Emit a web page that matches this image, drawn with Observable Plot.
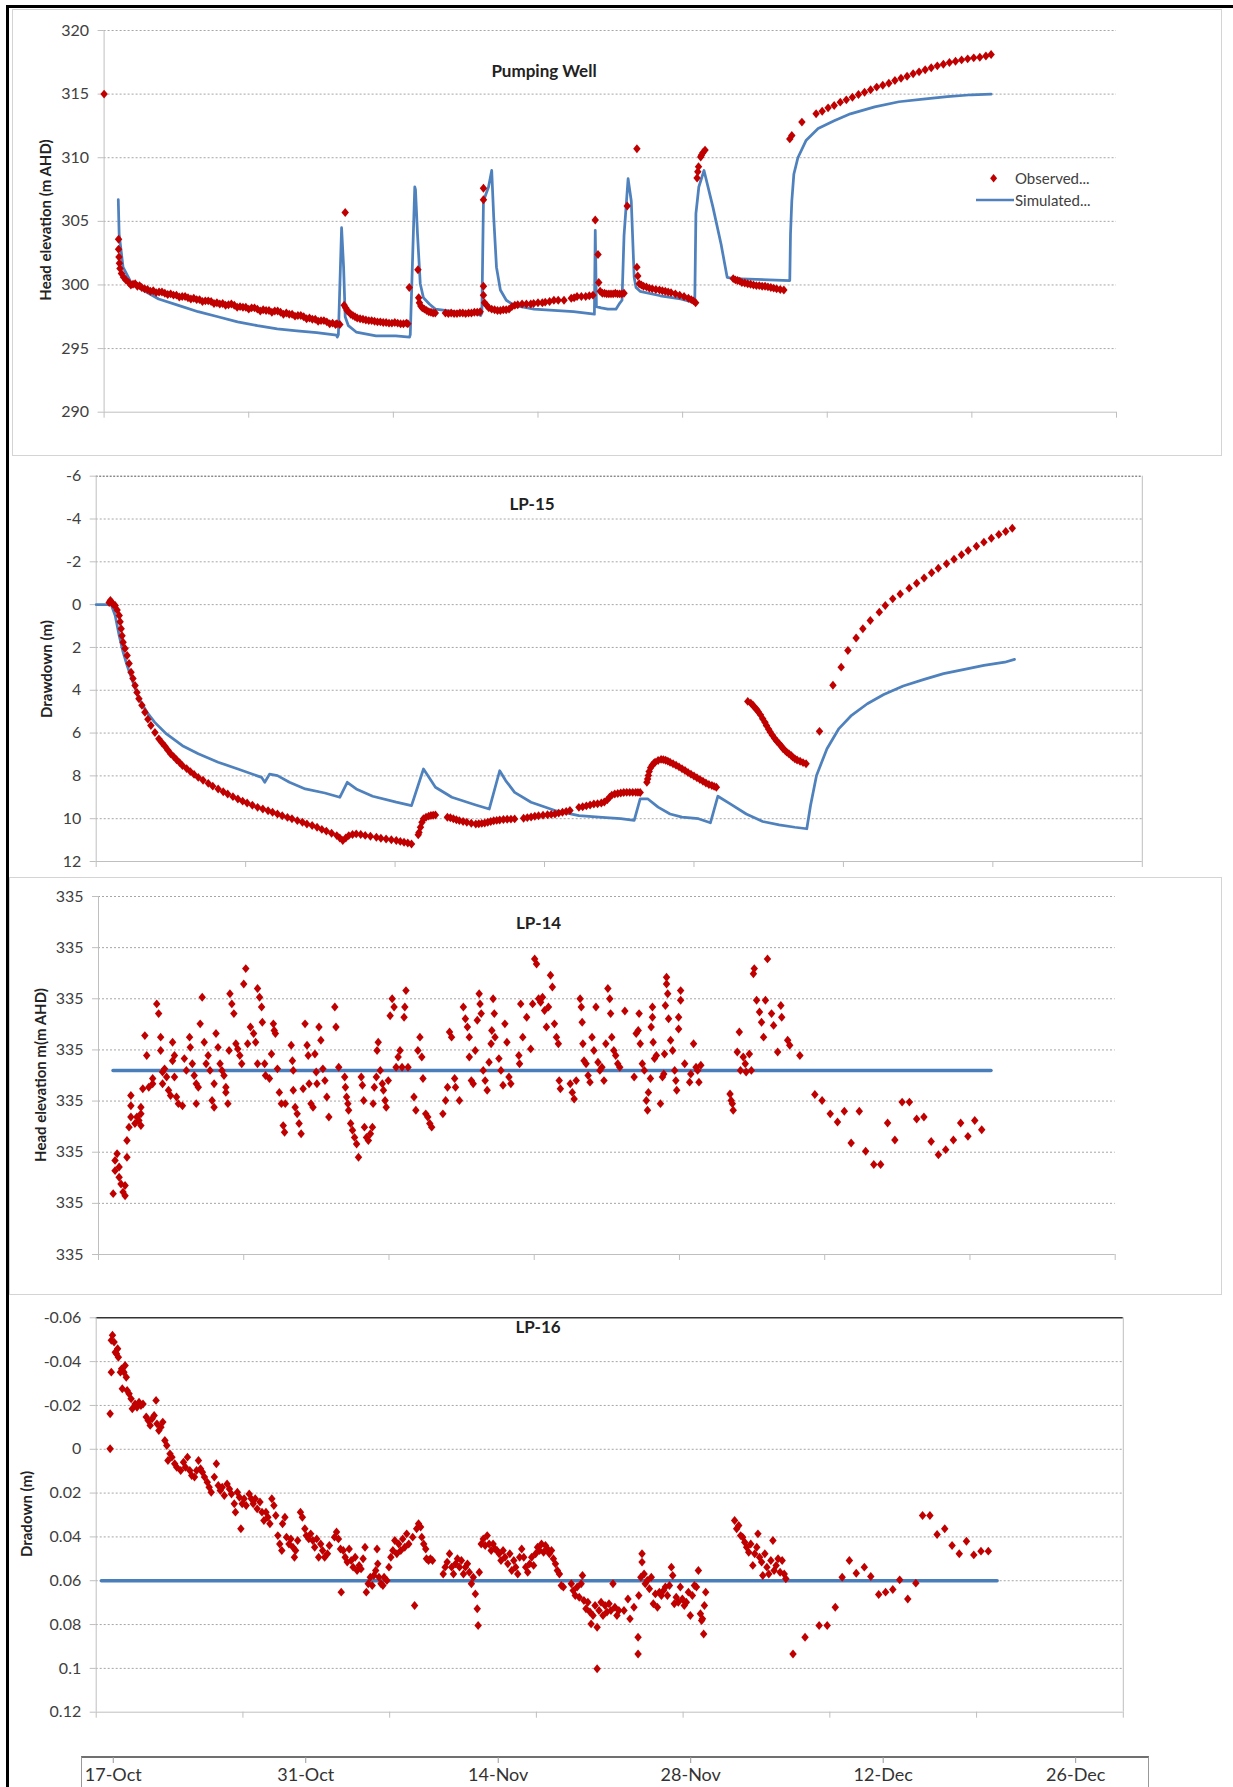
<!DOCTYPE html>
<html><head><meta charset="utf-8">
<script src="https://cdn.jsdelivr.net/npm/d3@7"></script>
<script src="https://cdn.jsdelivr.net/npm/@observablehq/plot@0.6"></script>
<style>
html,body{margin:0;padding:0;background:#fff;}
#page{position:relative;width:1233px;height:1787px;overflow:hidden;font-family:Lato,'Open Sans',sans-serif;color:#333;}
.box{position:absolute;box-sizing:border-box;}
.title{position:absolute;font-weight:bold;font-size:17px;transform:translate(-50%,-50%);white-space:nowrap;color:#222;}
.ylab{position:absolute;font-weight:bold;font-size:15px;transform:translate(-50%,-50%) rotate(-90deg);white-space:nowrap;color:#222;}
.leg{position:absolute;font-size:15px;transform:translateY(-50%);white-space:nowrap;color:#404040;}
</style></head><body><div id="page"></div>
<script>
// ---------- DATA (x = days since start of test, y = value) ----------
const dayTicks = [0, 10, 20, 30, 40, 50, 60, 70];

// Pumping well: head elevation (m AHD)
const pwTicks = [290, 295, 300, 305, 310, 315, 320];
const pwObserved = [
[0,315],
[1.0,303.6],[1.0,302.8],[1.03,302.2],[1.06,301.7],[1.1,301.3],[1.2,300.9],[1.35,300.6],[1.5,300.4],[1.7,300.2],[1.85,300.0],[2.0,300.05],[2.15,300.1],[2.3,299.9],[2.45,299.95],[2.6,299.8],[2.8,299.7],[3.0,299.65],[3.2,299.5],[3.4,299.55],[3.6,299.4],[3.8,299.45],[4.0,299.45],[4.2,299.35],[4.4,299.25],[4.6,299.3],[4.8,299.2],[5.0,299.2],[5.2,299.05],[5.4,299.1],[5.6,299.1],[5.8,299.0],[6.0,298.9],[6.2,298.95],[6.4,298.85],[6.6,298.85],[6.8,298.7],[7.0,298.75],[7.2,298.75],[7.4,298.7],[7.6,298.55],[7.8,298.6],[8.0,298.5],[8.2,298.55],[8.4,298.4],[8.6,298.45],[8.8,298.5],[9.0,298.4],[9.2,298.25],[9.4,298.3],[9.6,298.25],[9.8,298.25],[10.0,298.1],[10.2,298.2],[10.4,298.2],[10.6,298.1],[10.8,297.95],[11.0,298.05],[11.2,298.0],[11.4,298.0],[11.6,297.85],[11.8,297.95],[12.0,297.95],[12.2,297.85],[12.4,297.7],[12.6,297.8],[12.8,297.7],[13.0,297.7],[13.2,297.55],[13.4,297.6],[13.6,297.6],[13.8,297.5],[14.0,297.35],[14.2,297.4],[14.4,297.3],[14.6,297.3],[14.8,297.15],[15.0,297.2],[15.2,297.2],[15.4,297.1],[15.6,296.95],[15.8,297.0],[16.0,296.9],[16.1,296.95],[16.3,296.9],
[16.67,305.7],[16.6,298.4],[16.7,298.2],[16.8,298.0],[16.9,297.9],[17.05,297.7],[17.2,297.6],[17.35,297.5],[17.5,297.4],[17.7,297.35],[17.9,297.3],[18.1,297.25],[18.3,297.2],[18.5,297.2],[18.7,297.15],[18.9,297.1],[19.1,297.1],[19.3,297.05],[19.5,297.05],[19.7,297.0],[19.9,297.0],[20.1,297.05],[20.3,297.0],[20.5,296.95],[20.7,296.95],[20.9,297.0],[21.0,296.95],
[21.1,299.8],[21.7,301.2],[21.75,299.0],[21.8,298.6],[21.9,298.35],[22.0,298.2],[22.15,298.1],[22.3,298.0],[22.45,297.9],[22.6,297.85],[22.75,297.8],[22.9,297.8],
[23.6,297.8],[23.8,297.75],[24.0,297.8],[24.2,297.75],[24.4,297.75],[24.6,297.8],[24.8,297.8],[25.0,297.75],[25.2,297.8],[25.4,297.8],[25.6,297.85],[25.8,297.85],[26.0,297.9],
[26.23,307.6],[26.23,306.7],[26.23,299.9],[26.23,299.2],[26.3,298.6],[26.45,298.4],[26.6,298.2],[26.8,298.1],[27.0,298.05],[27.2,298.0],[27.4,298.0],[27.6,298.05],[27.8,298.05],[28.0,298.1],[28.2,298.3],[28.4,298.4],[28.6,298.45],[28.9,298.5],[29.2,298.5],[29.5,298.5],[29.7,298.55],[30.0,298.6],[30.3,298.6],[30.5,298.65],[30.8,298.7],[31.1,298.8],[31.4,298.8],[31.8,298.8],
[32.3,298.95],[32.5,299.0],[32.7,299.1],[33.0,299.1],[33.3,299.1],[33.55,299.15],[33.8,299.2],
[33.96,305.1],[34.15,302.4],[34.2,300.2],[34.3,299.5],[34.45,299.35],[34.6,299.35],[34.75,299.3],[34.9,299.3],[35.05,299.3],[35.2,299.3],[35.35,299.35],[35.5,299.3],[35.65,299.3],[35.8,299.3],[35.95,299.35],
[36.17,306.2],[36.84,310.7],[36.84,301.4],[36.9,300.7],[37.0,300.1],[37.15,300.0],[37.3,299.9],[37.5,299.85],[37.7,299.75],[37.9,299.7],[38.15,299.65],[38.4,299.6],[38.6,299.55],[38.8,299.5],[39.0,299.45],[39.2,299.4],[39.5,299.3],[39.8,299.2],[40.1,299.1],[40.4,298.95],[40.6,298.85],[40.75,298.75],[40.9,298.6],
[41.0,308.4],[41.05,308.9],[41.1,309.3],[41.25,310.05],[41.3,310.2],[41.4,310.4],[41.55,310.6],
[43.5,300.5],[43.65,300.4],[43.8,300.35],[43.95,300.3],[44.1,300.2],[44.3,300.15],[44.5,300.1],[44.7,300.05],[44.9,300.0],[45.1,299.95],[45.3,299.95],[45.5,299.9],[45.7,299.9],[45.9,299.85],[46.1,299.8],[46.3,299.75],[46.5,299.7],[46.75,299.65],[47.0,299.6],
[47.41,311.48],[47.55,311.75],[48.25,312.8],[49.23,313.45],[49.65,313.66],[50.06,313.92],[50.48,314.1],[50.9,314.37],[51.32,314.55],[51.74,314.76],[52.16,314.97],[52.58,315.15],[53.0,315.34],[53.42,315.55],[53.84,315.7],[54.26,315.86],[54.68,316.07],[55.1,316.25],[55.52,316.41],[55.94,316.6],[56.35,316.75],[56.77,316.91],[57.19,317.07],[57.61,317.22],[58.03,317.35],[58.45,317.48],[58.87,317.59],[59.29,317.69],[59.71,317.77],[60.13,317.85],[60.55,317.9],[60.97,318.0],[61.33,318.11]
];
const pwSimulated = [
[0.98,306.7],[1.04,304.0],[1.31,301.4],[1.86,300.2],[2.68,299.6],[3.77,298.9],[5.14,298.4],[6.5,297.9],[7.87,297.5],[9.23,297.1],[10.6,296.8],[11.97,296.55],[13.33,296.4],[14.7,296.25],[16.07,296.05],[16.12,295.9],[16.2,296.1],[16.42,304.5],[16.56,301.4],[16.67,297.5],[16.89,296.8],[17.43,296.3],[18.8,296.0],[20.16,296.0],[21.12,295.9],[21.17,296.1],[21.48,307.7],[21.53,307.5],[21.67,304.0],[21.86,300.1],[22.08,299.0],[22.49,298.5],[22.9,298.1],[24.26,297.9],[25.63,297.8],[26.04,297.6],[26.12,297.8],[26.23,306.6],[26.58,307.7],[26.8,309.0],[26.94,305.3],[27.13,301.4],[27.4,299.6],[27.81,298.8],[28.36,298.4],[29.73,298.1],[31.09,298.0],[32.46,297.9],[33.9,297.7],[33.96,304.3],[34.04,298.3],[34.37,298.2],[34.83,298.1],[35.39,298.1],[35.67,298.6],[35.81,298.8],[35.95,303.9],[36.23,308.35],[36.45,306.6],[36.65,300.6],[36.78,299.8],[37.06,299.5],[38.46,299.15],[39.86,298.9],[40.84,298.6],[40.92,305.6],[41.12,307.7],[41.48,309.0],[42.1,306.1],[42.66,303.2],[43.08,300.6],[43.5,300.5],[47.41,300.35],[47.46,304.0],[47.55,306.6],[47.69,308.7],[47.97,310.0],[48.53,311.35],[49.37,312.3],[50.48,312.9],[51.6,313.45],[53.28,314.0],[54.96,314.4],[56.63,314.6],[58.31,314.8],[59.99,314.95],[61.33,315.0]
];

// LP-15: drawdown (m)
const lp15Ticks = [-6, -4, -2, 0, 2, 4, 6, 8, 10, 12];
const lp15Observed = [
[0.87,-0.1],[0.95,-0.19],[1.05,-0.1],[1.15,0.0],[1.27,0.04],[1.4,0.25],[1.54,0.51],[1.6,0.8],[1.67,1.13],[1.73,1.45],[1.8,1.76],[1.93,2.05],[2.07,2.38],[2.2,2.75],[2.33,3.16],[2.46,3.45],[2.6,3.78],[2.73,4.1],[2.86,4.4],[3.06,4.7],[3.26,5.03],[3.46,5.35],[3.66,5.65],[3.93,5.97],[4.19,6.27],[4.4,6.45],[4.6,6.62],[4.8,6.8],[4.98,6.97],[5.18,7.1],[5.38,7.25],[5.58,7.38],[5.77,7.52],[6.05,7.66],[6.3,7.8],[6.55,7.93],[6.83,8.07],[7.15,8.2],[7.5,8.35],[7.8,8.48],[8.16,8.61],[8.5,8.74],[8.8,8.85],[9.15,8.97],[9.48,9.08],[9.8,9.18],[10.1,9.27],[10.45,9.37],[10.8,9.47],[11.15,9.55],[11.5,9.63],[11.8,9.7],[12.13,9.78],[12.45,9.86],[12.8,9.94],[13.1,10.0],[13.46,10.09],[13.8,10.17],[14.1,10.25],[14.45,10.32],[14.78,10.4],[15.1,10.5],[15.4,10.58],[15.75,10.68],[16.1,10.79],[16.3,10.9],[16.5,11.02],[16.7,10.9],[16.9,10.79],[17.15,10.74],[17.4,10.71],[17.7,10.74],[18.0,10.78],[18.35,10.82],[18.75,10.87],[19.05,10.91],[19.4,10.95],[19.75,10.98],[20.08,11.02],[20.35,11.06],[20.6,11.1],[20.85,11.14],[21.1,11.18],
[21.55,10.75],[21.6,10.64],[21.7,10.4],[21.8,10.17],[21.9,10.0],[22.07,9.93],[22.25,9.88],[22.4,9.85],[22.55,9.84],[22.7,9.83],
[23.5,9.93],[23.7,9.96],[23.9,10.0],[24.1,10.05],[24.3,10.09],[24.55,10.13],[24.8,10.17],[25.1,10.21],[25.4,10.25],[25.6,10.24],[25.8,10.22],[26.0,10.2],[26.2,10.17],[26.4,10.13],[26.6,10.1],[26.8,10.08],[27.0,10.06],[27.25,10.04],[27.5,10.03],[27.75,10.02],[28.0,10.01],
[28.6,9.98],[28.85,9.95],[29.1,9.92],[29.35,9.89],[29.6,9.86],[29.9,9.84],[30.2,9.82],[30.45,9.8],[30.7,9.78],[30.95,9.74],[31.2,9.7],[31.45,9.66],[31.7,9.62],
[32.3,9.47],[32.55,9.44],[32.8,9.4],[33.05,9.36],[33.3,9.31],[33.55,9.3],[33.8,9.27],[34.0,9.22],[34.2,9.12],[34.35,9.0],[34.5,8.9],[34.7,8.85],[34.9,8.82],[35.1,8.8],[35.3,8.78],[35.5,8.77],[35.7,8.77],[35.9,8.77],[36.1,8.77],[36.25,8.77],[36.4,8.78],
[36.85,8.3],[36.9,8.15],[36.95,7.98],[37.0,7.8],[37.1,7.62],[37.2,7.5],[37.3,7.42],[37.4,7.36],[37.6,7.28],[37.8,7.23],[37.95,7.24],[38.1,7.27],[38.25,7.31],[38.4,7.36],[38.6,7.43],[38.8,7.5],[39.0,7.58],[39.2,7.67],[39.4,7.75],[39.6,7.84],[39.8,7.92],[40.0,8.01],[40.2,8.09],[40.4,8.17],[40.6,8.25],[40.8,8.33],[41.0,8.4],[41.2,8.45],[41.35,8.49],[41.5,8.53],
[43.6,4.52],[43.8,4.6],[43.95,4.7],[44.05,4.79],[44.2,4.9],[44.3,5.0],[44.45,5.15],[44.6,5.33],[44.75,5.5],[44.85,5.65],[45.0,5.82],[45.1,5.95],[45.25,6.1],[45.4,6.25],[45.55,6.38],[45.7,6.5],[45.85,6.62],[45.95,6.72],[46.1,6.82],[46.2,6.89],[46.35,6.97],[46.5,7.05],[46.6,7.12],[46.75,7.2],[46.9,7.26],[47.1,7.32],[47.3,7.38],[47.5,7.43],
[48.4,5.92],[49.3,3.77],[49.85,2.92],[50.3,2.14],[50.85,1.56],[51.3,1.13],[51.8,0.74],[52.4,0.35],[52.8,0.04],[53.3,-0.27],[53.8,-0.5],[54.4,-0.77],[54.9,-1.0],[55.4,-1.24],[55.9,-1.49],[56.35,-1.7],[56.9,-1.91],[57.4,-2.12],[57.9,-2.33],[58.35,-2.53],[58.9,-2.73],[59.4,-2.92],[59.9,-3.1],[60.4,-3.28],[60.86,-3.42],[61.3,-3.57]
];
const lp15Simulated = [
[0,0],[1.0,0],[1.27,0.51],[1.54,1.45],[1.8,2.22],[2.07,2.85],[2.46,3.63],[2.86,4.4],[3.4,5.03],[3.92,5.5],[4.7,6.04],[5.77,6.59],[6.83,6.97],[8.16,7.36],[9.48,7.68],[11.07,8.07],[11.28,8.3],[11.6,7.92],[12.13,7.99],[12.93,8.3],[13.99,8.61],[15.3,8.8],[16.3,9.0],[16.8,8.3],[17.4,8.61],[18.5,8.95],[20.08,9.23],[21.1,9.39],[21.9,7.68],[22.2,7.99],[22.7,8.53],[23.8,9.0],[25.4,9.36],[26.3,9.55],[27.0,7.76],[27.4,8.22],[28.0,8.77],[29.1,9.23],[30.7,9.62],[32.3,9.86],[34.1,9.95],[35.1,10.0],[36.0,10.08],[36.4,9.07],[36.9,9.07],[37.6,9.46],[38.4,9.78],[39.2,9.93],[40.3,10.0],[41.1,10.19],[41.6,8.95],[42.4,9.3],[43.5,9.78],[44.6,10.13],[45.7,10.29],[46.75,10.4],[47.55,10.47],[47.8,9.38],[48.2,7.98],[48.9,6.73],[49.7,5.79],[50.5,5.2],[51.6,4.63],[52.7,4.2],[54.0,3.8],[55.4,3.49],[56.7,3.22],[58.1,3.02],[59.4,2.84],[60.8,2.69],[61.45,2.56]
];

// LP-14: head elevation (m AHD), all ticks display as 335
const lp14Ticks = [334.97, 334.98, 334.99, 335.00, 335.01, 335.02, 335.03, 335.04];
const lp14Observed = [
[1.01,334.9819],[1.14,334.9864],[1.14,334.9884],[1.28,334.9897],[1.42,334.9871],[1.42,334.9851],[1.55,334.9838],[1.69,334.9822],[1.83,334.9815],[1.83,334.9835],[1.96,334.9890],[1.96,334.9923],[2.10,334.9949],[2.23,334.9969],[2.23,334.9991],[2.23,335.0011],[2.51,334.9956],[2.64,334.9969],[2.78,334.9962],[2.92,334.9975],[2.92,334.9988],[3.05,335.0024],[2.92,334.9952],[3.19,335.0128],[3.32,335.0089],[3.46,335.0027],[3.73,335.0034],[3.73,335.0044],[4.01,335.0190],[4.14,335.0171],[4.28,335.0125],[4.28,335.0099],[4.41,335.0057],[4.41,335.0034],[4.55,335.0063],[4.69,335.0047],[4.82,335.0021],[4.96,335.0011],[5.10,335.0115],[5.10,335.0079],[5.23,335.0047],[5.23,335.0089],[5.37,335.0008],[5.50,334.9995],[5.78,334.9991],[5.91,335.0083],[6.05,335.0060],[6.27,335.0125],[6.32,335.0105],[6.46,335.0073],[6.59,335.0050],[6.73,335.0034],[6.73,334.9995],[6.87,335.0027],[7.00,335.0151],[7.14,335.0203],[7.28,335.0115],[7.41,335.0073],[7.55,335.0089],[7.68,335.0060],[7.82,335.0001],[7.96,334.9988],[7.96,335.0034],[8.09,335.0132],[8.23,335.0105],[8.37,335.0073],[8.50,335.0060],[8.64,335.0050],[8.77,335.0027],[8.77,335.0017],[8.91,334.9995],[8.99,335.0099],[9.05,335.0210],[9.18,335.0190],[9.32,335.0171],[9.46,335.0112],[9.59,335.0102],[9.73,335.0089],[9.86,335.0073],[10.00,335.0229],[10.14,335.0259],[10.27,335.0112],[10.46,335.0145],[10.68,335.0132],[10.82,335.0115],[10.95,335.0073],[10.95,335.0220],[11.09,335.0203],[11.23,335.0184],[11.28,335.0154],[11.44,335.0073],[11.50,335.0050],[11.77,335.0044],[11.91,335.0092],[12.04,335.0151],[12.10,335.0138],[12.18,335.0132],[12.32,335.0063],[12.45,335.0017],[12.59,334.9995],[12.72,334.9952],[12.81,334.9939],[12.86,334.9995],[13.27,335.0109],[13.35,335.0079],[13.41,335.0060],[13.41,335.0021],[13.54,334.9988],[13.68,334.9975],[13.81,334.9956],[13.95,334.9936],[14.09,335.0024],[14.22,335.0151],[14.36,335.0109],[14.44,335.0089],[14.50,335.0034],[14.63,334.9995],[14.77,334.9988],[14.90,335.0092],[14.99,335.0057],[15.04,335.0034],[15.18,335.0145],[15.31,335.0119],[15.45,335.0063],[15.59,335.0040],[15.72,335.0008],[15.86,334.9969],[16.27,335.0184],[16.35,335.0145],[16.54,335.0066],[16.95,335.0047],[17.00,335.0027],[17.08,335.0008],[17.17,334.9995],[17.22,334.9982],[17.36,334.9956],[17.49,334.9943],[17.63,334.9929],[17.77,334.9916],[17.90,334.9890],[18.09,335.0047],[18.17,335.0031],[18.26,335.0001],[18.31,334.9949],[18.45,334.9929],[18.58,334.9923],[18.72,334.9936],[18.86,334.9949],[18.91,334.9995],[18.99,335.0027],[19.13,335.0047],[19.18,335.0099],[19.26,335.0115],[19.40,335.0060],[19.54,335.0034],[19.62,335.0021],[19.73,335.0001],[19.81,334.9988],[19.95,335.0040],[20.08,335.0167],[20.22,335.0200],[20.35,335.0184],[20.49,335.0066],[20.63,335.0086],[20.76,335.0099],[20.90,335.0066],[21.04,335.0164],[21.09,335.0184],[21.17,335.0216],[21.31,335.0066],[21.72,335.0008],[21.85,334.9982],[21.99,335.0099],[22.13,335.0125],[22.26,335.0086],[22.34,335.0044],[22.53,334.9975],[22.67,334.9969],[22.81,334.9956],[22.94,334.9949],[23.71,334.9975],[23.90,335.0001],[24.03,335.0027],[24.17,335.0135],[24.31,335.0125],[24.52,335.0044],[24.58,335.0027],[24.85,335.0001],[25.12,335.0184],[25.26,335.0161],[25.40,335.0145],[25.53,335.0125],[25.53,335.0086],[25.67,335.0040],[25.80,335.0034],[25.94,335.0099],[26.08,335.0158],[26.21,335.0210],[26.27,335.0190],[26.35,335.0171],[26.49,335.0060],[26.62,335.0040],[26.76,335.0021],[26.89,335.0076],[27.03,335.0112],[27.08,335.0138],[27.17,335.0200],[27.25,335.0171],[27.30,335.0125],[27.57,335.0083],[27.71,335.0060],[27.85,335.0031],[27.98,335.0151],[28.12,335.0115],[28.26,335.0047],[28.39,335.0034],[28.94,335.0089],[28.99,335.0073],[29.07,335.0190],[29.21,335.0125],[29.48,335.0164],[29.76,335.0102],[29.89,335.0190],[30.03,335.0278],[30.16,335.0268],[30.30,335.0200],[30.44,335.0193],[30.57,335.0203],[30.71,335.0177],[30.84,335.0145],[30.98,335.0184],[31.12,335.0246],[31.25,335.0223],[31.39,335.0151],[31.53,335.0125],[31.66,335.0112],[31.72,335.0040],[31.80,335.0024],[32.48,335.0034],[32.62,335.0017],[32.75,335.0004],[32.89,335.0040],[33.16,335.0200],[33.24,335.0184],[33.30,335.0154],[33.35,335.0112],[33.43,335.0079],[33.57,335.0073],[33.71,335.0050],[33.84,335.0037],[33.98,335.0125],[34.11,335.0099],[34.25,335.0184],[34.39,335.0076],[34.52,335.0060],[34.66,335.0066],[34.80,335.0040],[34.93,335.0112],[35.07,335.0220],[35.20,335.0200],[35.26,335.0171],[35.34,335.0125],[35.48,335.0099],[35.61,335.0089],[35.75,335.0073],[35.89,335.0066],
[36.24,335.0176],[36.88,335.0047],[37.02,335.0132],[37.16,335.0138],[37.22,335.0171],[37.30,335.0112],[37.44,335.0073],[37.58,335.0060],[37.72,335.0001],[37.80,334.9982],[37.86,335.0017],[38.00,335.0044],[38.05,335.0145],[38.14,335.0164],[38.14,335.0184],[38.19,335.0115],[38.28,335.0083],[38.41,335.0089],[38.69,334.9995],[38.83,335.0047],[38.92,335.0053],[38.97,335.0092],[39.03,335.0187],[39.11,335.0229],[39.11,335.0242],[39.19,335.0210],[39.25,335.0161],[39.39,335.0119],[39.53,335.0099],[39.67,335.0060],[39.75,335.0040],[39.81,335.0021],[39.94,335.0141],[39.94,335.0164],[40.08,335.0197],[40.08,335.0216],[40.36,335.0073],[40.70,335.0037],[40.78,335.0053],[40.97,335.0112],[41.14,335.0066],[41.25,335.0060],[41.34,335.0037],[41.47,335.0070],
[43.48,335.0014],[43.56,335.0001],[43.64,334.9995],[43.70,334.9982],[43.98,335.0096],[44.12,335.0135],[44.20,335.0060],[44.39,335.0086],[44.53,335.0073],[44.59,335.0057],[44.81,335.0092],[44.95,335.0060],[45.09,335.0249],[45.15,335.0259],[45.31,335.0197],[45.51,335.0174],[45.65,335.0154],[45.79,335.0125],[45.92,335.0197],[46.06,335.0278],[46.34,335.0171],[46.48,335.0148],[46.76,335.0096],[46.98,335.0187],[47.04,335.0164],[47.45,335.0119],[47.59,335.0109],[48.29,335.0089],
[49.32,335.0013],[49.82,335.0001],[50.38,334.9975],[50.88,334.9959],[51.35,334.9980],[51.82,334.9918],[52.38,334.9980],[52.82,334.9902],[53.38,334.9876],[53.85,334.9876],[54.33,334.9957],[54.83,334.9924],[55.33,334.9998],[55.83,334.9998],[56.33,334.9965],[56.83,334.9969],[57.33,334.9921],[57.83,334.9895],[58.33,334.9905],[58.86,334.9924],[59.36,334.9957],[59.86,334.9931],[60.33,334.9962],[60.81,334.9944]
];
const lp14Simulated = [[1.0,335.006],[61.45,335.006]];

// LP-16: drawdown (m)
const lp16Ticks = [-0.06, -0.04, -0.02, 0, 0.02, 0.04, 0.06, 0.08, 0.1, 0.12];
const lp16Observed = [
[0.95,-0.0002],[0.95,-0.0162],[1.03,-0.0352],[1.03,-0.0497],[1.11,-0.0520],[1.22,-0.0489],[1.30,-0.0443],[1.38,-0.0436],[1.46,-0.0459],[1.51,-0.0420],[1.65,-0.0352],[1.73,-0.0367],[1.78,-0.0276],[1.89,-0.0352],[1.97,-0.0382],[2.05,-0.0329],[2.11,-0.0268],[2.24,-0.0253],[2.38,-0.0230],[2.46,-0.0185],[2.65,-0.0207],[2.78,-0.0192],[2.92,-0.0215],[3.05,-0.0200],[3.19,-0.0207],[3.41,-0.0147],[3.54,-0.0131],[3.68,-0.0109],[3.81,-0.0139],[3.95,-0.0154],[4.08,-0.0223],[4.14,-0.0116],[4.27,-0.0086],[4.41,-0.0101],[4.54,-0.0124],[4.68,-0.0040],[4.81,-0.0017],[4.89,0.0051],[5.03,0.0021],[5.16,0.0036],[5.35,0.0066],[5.49,0.0082],[5.76,0.0097],[5.95,0.0059],[6.08,0.0082],[6.22,0.0036],[6.38,0.0097],[6.51,0.0120],[6.70,0.0127],[6.84,0.0097],[6.97,0.0051],[7.11,0.0089],[7.24,0.0105],[7.38,0.0127],[7.57,0.0150],[7.70,0.0173],[7.84,0.0196],[8.05,0.0127],[8.19,0.0066],[8.32,0.0165],[8.46,0.0188],[8.59,0.0173],[8.73,0.0211],[8.92,0.0158],[9.08,0.0181],[9.22,0.0204],[9.41,0.0249],[9.49,0.0287],[9.62,0.0196],[9.76,0.0219],[9.86,0.0363],[9.95,0.0249],[10.08,0.0226],[10.22,0.0257],[10.43,0.0204],[10.57,0.0226],[10.70,0.0249],[10.84,0.0226],[10.97,0.0272],[11.16,0.0241],[11.30,0.0287],[11.43,0.0325],[11.57,0.0287],[11.70,0.0310],[11.84,0.0340],[11.97,0.0226],[12.11,0.0257],[12.24,0.0302],[12.38,0.0394],[12.51,0.0432],[12.65,0.0462],[12.70,0.0340],[12.86,0.0310],[12.97,0.0401],[13.14,0.0432],[13.27,0.0409],[13.41,0.0447],[13.51,0.0493],[13.59,0.0462],[13.73,0.0416],[13.92,0.0287],[14.05,0.0310],[14.22,0.0363],[14.32,0.0394],[14.49,0.0409],[14.62,0.0386],[14.76,0.0416],[14.89,0.0447],[15.03,0.0409],[15.16,0.0493],[15.30,0.0432],[15.43,0.0462],[15.57,0.0493],[15.76,0.0477],[15.89,0.0439],[16.24,0.0401],[16.38,0.0378],[16.51,0.0409],[16.65,0.0455],[16.70,0.0652],[16.84,0.0462],[16.97,0.0493],[17.11,0.0515],[17.24,0.0455],[17.38,0.0508],[17.51,0.0538],[17.65,0.0493],[17.78,0.0553],[17.92,0.0530],[18.05,0.0546],[18.19,0.0500],[18.32,0.0447],[18.41,0.0652],[18.54,0.0614],[18.68,0.0584],[18.81,0.0622],[18.92,0.0576],[19.05,0.0553],[19.14,0.0455],[19.19,0.0523],[19.27,0.0584],[19.41,0.0614],[19.54,0.0622],[19.62,0.0584],[19.81,0.0599],[19.95,0.0538],[20.08,0.0493],[20.22,0.0462],[20.35,0.0416],[20.49,0.0477],[20.62,0.0432],[20.76,0.0462],[20.89,0.0409],[21.03,0.0447],[21.16,0.0386],[21.30,0.0432],[21.57,0.0401],[21.70,0.0713],[21.84,0.0363],[21.97,0.0340],[22.11,0.0355],[22.19,0.0401],[22.32,0.0432],[22.46,0.0455],[22.51,0.0500],[22.65,0.0508],[22.78,0.0500],[22.92,0.0508],[23.65,0.0569],[23.78,0.0538],[23.92,0.0515],[24.08,0.0477],[24.22,0.0538],[24.35,0.0569],[24.49,0.0523],[24.62,0.0500],[24.76,0.0538],[24.89,0.0508],[25.03,0.0569],[25.16,0.0538],[25.30,0.0523],[25.43,0.0561],[25.57,0.0614],[25.70,0.0584],[25.84,0.0660],[25.97,0.0728],[26.03,0.0804],[26.11,0.0561],[26.24,0.0432],[26.38,0.0409],[26.51,0.0439],[26.65,0.0394],[26.78,0.0432],[26.92,0.0462],[27.05,0.0432],[27.19,0.0455],[27.32,0.0462],[27.46,0.0477],[27.59,0.0508],[27.73,0.0462],[27.86,0.0493],[28.05,0.0523],[28.19,0.0477],[28.32,0.0553],[28.46,0.0508],[28.59,0.0538],[28.73,0.0569],[28.86,0.0493],[29.00,0.0455],[29.14,0.0493],[29.27,0.0538],[29.41,0.0561],[29.54,0.0523],[29.68,0.0493],[29.81,0.0530],[29.95,0.0477],[30.08,0.0447],[30.22,0.0462],[30.35,0.0432],[30.49,0.0470],[30.62,0.0439],[30.76,0.0455],[30.89,0.0477],[31.03,0.0462],[31.16,0.0500],[31.30,0.0523],[31.43,0.0553],[31.57,0.0569],[31.70,0.0622],[31.84,0.0629],[32.38,0.0614],[32.51,0.0645],[32.65,0.0667],[32.78,0.0629],[32.92,0.0675],[33.05,0.0614],[33.14,0.0576],[33.24,0.0690],[33.38,0.0728],[33.51,0.0698],[33.65,0.0743],[33.73,0.0797],[33.86,0.0759],[34.00,0.0713],[34.14,0.1002],[34.14,0.0812],[34.27,0.0736],[34.41,0.0698],[34.54,0.0759],[34.68,0.0713],[34.81,0.0743],[34.95,0.0705],[35.08,0.0736],[35.22,0.0614],[35.35,0.0721],[35.49,0.0759],[35.62,0.0736],
[35.97,0.0736],[36.24,0.0683],[36.38,0.0774],[36.65,0.0721],[36.93,0.0858],[36.93,0.0934],[36.98,0.0667],[37.12,0.0584],[37.20,0.0515],[37.20,0.0477],[37.34,0.0569],[37.42,0.0614],[37.56,0.0599],[37.70,0.0637],[37.83,0.0584],[37.97,0.0705],[38.11,0.0660],[38.25,0.0721],[38.38,0.0652],[38.52,0.0667],[38.66,0.0645],[38.79,0.0629],[38.93,0.0667],[39.07,0.0622],[39.20,0.0538],[39.29,0.0576],[39.40,0.0705],[39.53,0.0675],[39.67,0.0698],[39.81,0.0629],[39.95,0.0683],[40.08,0.0713],[40.22,0.0698],[40.36,0.0652],[40.49,0.0759],[40.63,0.0667],[40.77,0.0622],[40.91,0.0629],[41.04,0.0553],[41.18,0.0751],[41.26,0.0782],[41.32,0.0774],[41.40,0.0843],[41.45,0.0713],[41.54,0.0652],
[43.51,0.0325],[43.65,0.0363],[43.79,0.0348],[43.92,0.0394],[44.06,0.0401],[44.20,0.0424],[44.33,0.0447],[44.47,0.0470],[44.61,0.0432],[44.75,0.0530],[44.88,0.0477],[45.02,0.0447],[45.10,0.0386],[45.21,0.0493],[45.35,0.0515],[45.43,0.0576],[45.57,0.0477],[45.71,0.0538],[45.84,0.0569],[45.98,0.0508],[46.12,0.0416],[46.20,0.0553],[46.34,0.0530],[46.47,0.0500],[46.61,0.0561],[46.75,0.0508],[46.89,0.0569],[47.00,0.0591],
[47.49,0.0934],[48.31,0.0858],[49.27,0.0804],[49.82,0.0804],[50.37,0.0721],[50.84,0.0584],[51.33,0.0508],[51.80,0.0566],[52.35,0.0538],[52.79,0.0581],[53.33,0.0663],[53.80,0.0652],[54.29,0.0640],[54.76,0.0596],[55.31,0.0683],[55.86,0.0611],[56.32,0.0302],[56.82,0.0302],[57.31,0.0389],[57.83,0.0363],[58.33,0.0439],[58.82,0.0477],[59.31,0.0420],[59.81,0.0482],[60.30,0.0465],[60.80,0.0465]
];
const lp16Simulated = [[0.35,0.06],[61.4,0.06]];

// Shared date strip (days since 17-Oct)
const dateTickDays = [0, 14, 28, 42, 56, 70];
const dateTickLabels = ["17-Oct", "31-Oct", "14-Nov", "28-Nov", "12-Dec", "26-Dec"];

// ---------- DRAWING ----------
const page = document.getElementById("page");
const RED = "#C00000", BLUE = "#4F81BD", GRID = "#a6a6a6", AXIS = "#bfbfbf";
const diamond = {draw(ctx, size) {
  const s = Math.sqrt(size), w = s * 0.5, h = s * 0.6;
  ctx.moveTo(0, -h); ctx.lineTo(w, 0); ctx.lineTo(0, h); ctx.lineTo(-w, 0); ctx.closePath();
}};

function addDiv(cls, css, text) {
  const d = document.createElement("div");
  d.className = cls;
  Object.assign(d.style, css);
  if (text != null) d.textContent = text;
  page.appendChild(d);
  return d;
}

// outer black border + panel frames
addDiv("box", {left:"6px", top:"5px", width:"1227px", height:"3px", background:"#000"});
addDiv("box", {left:"6px", top:"5px", width:"3px", height:"1782px", background:"#000"});
addDiv("box", {left:"12px", top:"9px", width:"1210px", height:"447px", border:"1px solid #d4d4d4"});
addDiv("box", {left:"9px", top:"877px", width:"1213px", height:"418px", border:"1px solid #d4d4d4"});
addDiv("box", {left:"81px", top:"1756px", width:"1068px", height:"40px", borderTop:"2px solid #707070", borderLeft:"1px solid #999", borderRight:"1px solid #999"});

function panel({top, height, mt, mb, ml, mr, yDomain, ticks, gridTicks, fmt, obs, sim, simWidth, simColor, extra}) {
  const svg = Plot.plot({
    width: 1233, height, marginTop: mt, marginBottom: mb, marginLeft: ml, marginRight: mr,
    style: {fontFamily: "Lato, sans-serif", fontSize: "16px", background: "transparent", overflow: "visible"},
    x: {domain: [0, 70], label: null},
    y: {domain: yDomain, label: null},
    marks: [
      Plot.gridY({ticks: gridTicks, stroke: GRID, strokeOpacity: 1, strokeDasharray: "2,2"}),
      ...(extra || []),
      Plot.axisY({ticks, tickSize: 6, tickPadding: 9, tickFormat: fmt, stroke: AXIS, fill: "#404040", label: null}),
      Plot.axisX({ticks: dayTicks, tickSize: 6, tickFormat: () => "", stroke: AXIS, label: null}),
      Plot.ruleX([0], {stroke: AXIS}),
      Plot.ruleY([yDomain[0]], {stroke: AXIS}),
      Plot.line(sim, {x: d => d[0], y: d => d[1], stroke: simColor || BLUE, strokeWidth: simWidth}),
      Plot.dot(obs, {x: d => d[0], y: d => d[1], symbol: diamond, r: 4.2, fill: RED})
    ]
  });
  svg.style.position = "absolute"; svg.style.left = "0px"; svg.style.top = top + "px";
  page.appendChild(svg);
}

// Panel 1: Pumping well
panel({top: 0, height: 456, mt: 30, mb: 44.3, ml: 103.6, mr: 117,
  yDomain: [290, 320], ticks: pwTicks, gridTicks: pwTicks.slice(1), fmt: d => String(d),
  obs: pwObserved, sim: pwSimulated, simWidth: 2.75});

// Panel 2: LP-15
panel({top: 456, height: 421, mt: 19.7, mb: 16, ml: 95.7, mr: 91.2,
  yDomain: [12, -6], ticks: lp15Ticks, gridTicks: lp15Ticks.slice(1, -1), fmt: d => String(d),
  obs: lp15Observed, sim: lp15Simulated, simWidth: 2.75,
  extra: [Plot.ruleY([-6], {stroke: "#555", strokeDasharray: "2,1.5"}), Plot.ruleX([70], {stroke: AXIS})]});

// Panel 3: LP-14
panel({top: 877, height: 418, mt: 19, mb: 41, ml: 98, mr: 118.3,
  yDomain: [334.97, 335.04], ticks: lp14Ticks, gridTicks: lp14Ticks.slice(1), fmt: d => d3.format(".0f")(d),
  obs: lp14Observed, sim: lp14Simulated, simWidth: 3.5, simColor: "#4A7EBB"});

// Panel 4: LP-16
panel({top: 1295, height: 461, mt: 22.3, mb: 44.3, ml: 95.7, mr: 110.2,
  yDomain: [0.12, -0.06], ticks: lp16Ticks, gridTicks: lp16Ticks.slice(1, -1), fmt: d => String(d),
  obs: lp16Observed, sim: lp16Simulated, simWidth: 3.5, simColor: "#4A7EBB",
  extra: [Plot.ruleY([-0.06], {stroke: "#333", strokeWidth: 1.5}), Plot.ruleX([70], {stroke: AXIS})]});

// Date strip
const strip = Plot.plot({
  width: 1233, height: 31, marginTop: 0, marginBottom: 30, marginLeft: 81, marginRight: 84,
  style: {fontFamily: "Lato, sans-serif", fontSize: "18px", background: "transparent", overflow: "visible"},
  x: {domain: [-2.31, 75.37], label: null},
  marks: [
    Plot.axisX({ticks: dateTickDays, tickSize: 6, tickPadding: 5, stroke: "#999", fill: "#333",
      tickFormat: d => dateTickLabels[dateTickDays.indexOf(d)], label: null})
  ]
});
strip.style.position = "absolute"; strip.style.left = "0px"; strip.style.top = "1756px";
page.appendChild(strip);

// Titles and axis labels
addDiv("title", {left:"544px", top:"70px"}, "Pumping Well");
addDiv("title", {left:"532px", top:"503px"}, "LP-15");
addDiv("title", {left:"538.6px", top:"921.7px"}, "LP-14");
addDiv("title", {left:"538px", top:"1326px"}, "LP-16");
addDiv("ylab", {left:"45px", top:"220px"}, "Head elevation (m AHD)");
addDiv("ylab", {left:"45.5px", top:"668.5px"}, "Drawdown (m)");
addDiv("ylab", {left:"39.5px", top:"1075px"}, "Head elevation m(m AHD)");
addDiv("ylab", {left:"25.7px", top:"1514px"}, "Dradown (m)");

// Legend (pumping well panel)
const legNS = "http://www.w3.org/2000/svg";
const leg = document.createElementNS(legNS, "svg");
leg.setAttribute("width", "50"); leg.setAttribute("height", "40");
Object.assign(leg.style, {position: "absolute", left: "970px", top: "168px", overflow: "visible"});
leg.innerHTML = '<path d="M23.6,6 L27.1,10.3 L23.6,14.6 L20.1,10.3 Z" fill="' + RED + '"/>' +
  '<line x1="6" x2="44" y1="32" y2="32" stroke="' + BLUE + '" stroke-width="2.5"/>';
page.appendChild(leg);
addDiv("leg", {left:"1015px", top:"178px"}, "Observed...");
addDiv("leg", {left:"1015px", top:"200px"}, "Simulated...");
</script>
</body></html>
